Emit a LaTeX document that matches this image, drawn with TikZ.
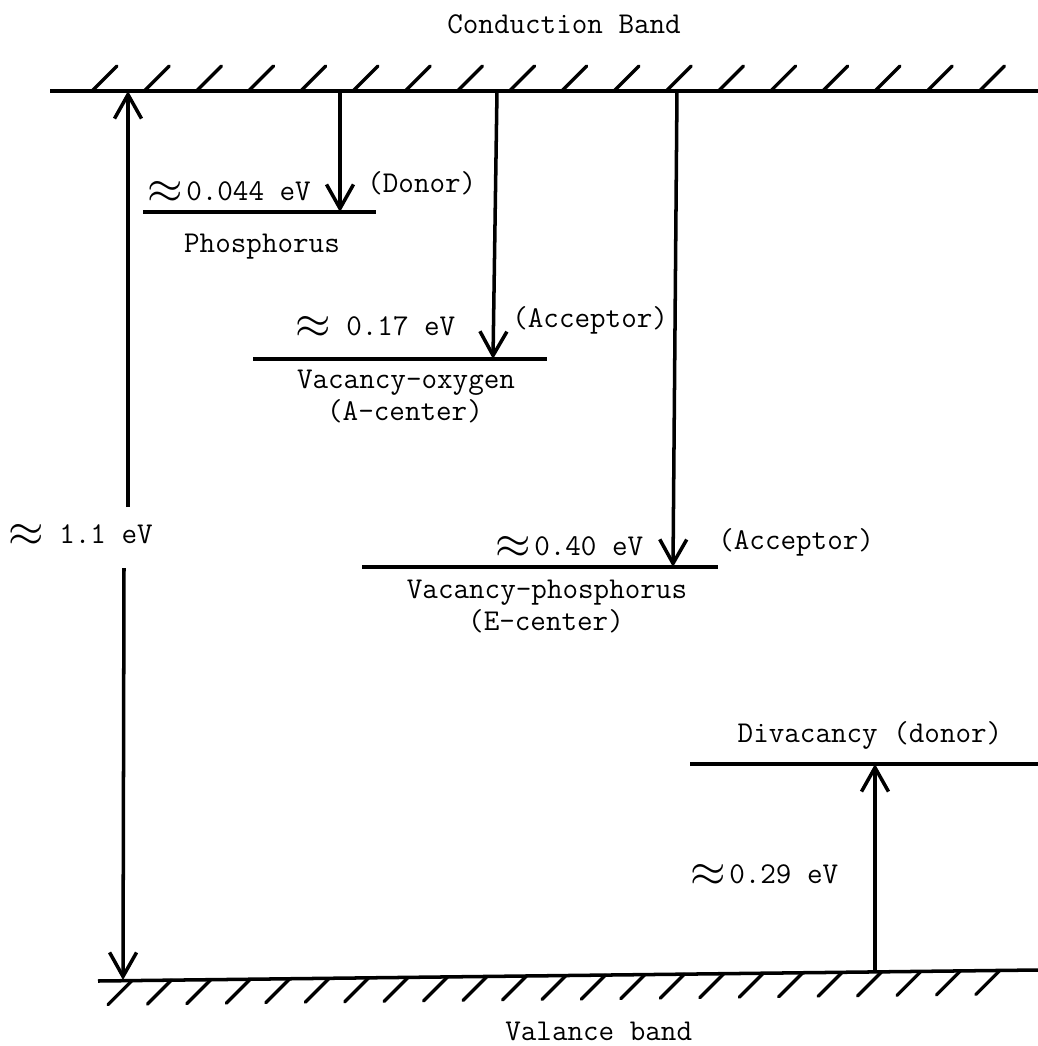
\documentclass[tikz,border=0pt]{standalone}
\usetikzlibrary{arrows.meta}
% typewriter-style "approximately" sign
\newcommand{\apx}{\raisebox{-0.1em}{\scalebox{1.5}{$\approx$}}}
\begin{document}
\begin{tikzpicture}[x=0.02cm, y=-0.02cm,
  band/.style={line width=2pt},
  hatch/.style={line width=1.9pt, line cap=round},
  level/.style={line width=2pt},
  arr/.style={line width=2pt, -{Straight Barb[length=0.48cm, width=0.54cm]}},
  lbl/.style={inner sep=0pt, font=\fontsize{17.2}{20}\selectfont\ttfamily}]
\useasboundingbox (0,0) rectangle (1038,1046);

% ---- conduction band edge ----
\coordinate (cbL) at (50,91);
\coordinate (cbR) at (1038,91);
\draw[band] (cbL) -- (cbR);
\foreach \k in {0,...,17}
  \draw[hatch] ({92+52.2*\k},91) -- ++(25,-25);
\node[lbl, anchor=base west] (cbt) at (447,33) {Conduction Band};

% ---- valence band edge (slightly tilted) ----
\coordinate (vbL) at (98,981);
\coordinate (vbR) at (1038,970);
\draw[band] (vbL) -- (vbR);
\foreach \k in {0,...,22} {
  \pgfmathsetmacro\hx{132+39.45*\k}
  \pgfmathsetmacro\hy{981-(\hx-98)*11/940}
  \draw[hatch] (\hx,\hy) -- ++(-24,24);
}
\node[lbl, anchor=base west] (vbt) at (505,1040) {Valance band};

% ---- band gap ----
\coordinate (gapT) at (128,91);
\coordinate (gapU) at (128,507);
\coordinate (gapD) at (124,568);
\coordinate (gapB) at (123,980);
\draw[arr] (gapU) -- (gapT);
\draw[arr] (gapD) -- (gapB);
\node[lbl, anchor=base west] (gap) at (8,543) {\apx\ 1.1 eV};

% ---- phosphorus donor ----
\coordinate (pL) at (143,212);
\coordinate (pR) at (376,212);
\draw[level] (pL) -- (pR);
\coordinate (pTop) at (340,91);
\coordinate (pLev) at (340,212);
\draw[arr] (pTop) -- (pLev);
\node[lbl, anchor=base west] (pE) at (147,200) {\apx\kern2pt0.044 eV};
\node[lbl, anchor=base west] (pT) at (367,192) {(Donor)};
\node[lbl, anchor=base] (pN) at (262,252) {Phosphorus};

% ---- vacancy-oxygen (A-center) ----
\coordinate (aL) at (253,359);
\coordinate (aR) at (547,359);
\draw[level] (aL) -- (aR);
\coordinate (aTop) at (497,91);
\coordinate (aLev) at (493,359);
\draw[arr] (aTop) -- (aLev);
\node[lbl, anchor=base west] (aE) at (295,335) {\apx\ 0.17 eV};
\node[lbl, anchor=base west] (aT) at (512,327) {(Acceptor)};
\node[lbl, anchor=base] (aN1) at (406,388) {Vacancy-oxygen};
\node[lbl, anchor=base] (aN2) at (405,420) {(A-center)};

% ---- vacancy-phosphorus (E-center) ----
\coordinate (eL) at (362,567);
\coordinate (eR) at (718,567);
\draw[level] (eL) -- (eR);
\coordinate (eTop) at (677,91);
\coordinate (eLev) at (673,567);
\draw[arr] (eTop) -- (eLev);
\node[lbl, anchor=base west] (eE) at (495,555) {\apx\kern2pt0.40 eV};
\node[lbl, anchor=base west] (eT) at (718,549) {(Acceptor)};
\node[lbl, anchor=base] (eN1) at (547,598) {Vacancy-phosphorus};
\node[lbl, anchor=base] (eN2) at (546,630) {(E-center)};

% ---- divacancy donor ----
\coordinate (dL) at (690,764);
\coordinate (dR) at (1038,764);
\draw[level] (dL) -- (dR);
\coordinate (dBot) at (875,972);
\coordinate (dLev) at (875,764);
\draw[arr] (dBot) -- (dLev);
\node[lbl, anchor=base] (dN) at (870,742) {Divacancy (donor)};
\node[lbl, anchor=base west] (dE) at (690,883) {\apx\kern2pt0.29 eV};
\end{tikzpicture}
\end{document}
